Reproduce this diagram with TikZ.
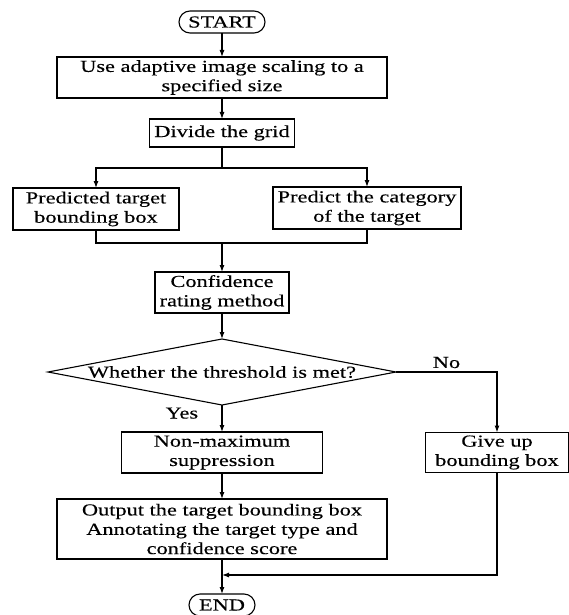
\documentclass[tikz,border=0pt]{standalone}
\usepackage{fontspec}
\setmainfont{Liberation Serif}[FakeStretch=1.33, FakeBold=0.3]
\usepackage{tikz}
\usetikzlibrary{arrows.meta,positioning,calc,shapes.geometric}
\newcommand{\flowfont}{\fontsize{16.8}{19.3}\selectfont}
\tikzset{
  flowBox/.style={draw, line width=1.1pt, outer sep=0pt, align=center, inner sep=2pt, font=\flowfont},
  flowEnd/.style={flowBox, rounded corners=11pt, minimum width=86pt, minimum height=22pt},
  flowCheck/.style={draw, line width=1.1pt, outer sep=0pt, diamond, inner sep=0pt, minimum width=348pt, minimum height=66pt},
  flowArrow/.style={-{Latex[length=7pt,width=5pt]}, line width=1.1pt},
  flowLine/.style={line width=1.1pt},
  flowLabel/.style={font=\flowfont}
}

\begin{document}
\begin{tikzpicture}[x=1pt, y=-1pt]
  \useasboundingbox (0,0) rectangle (569,615);
  \node[flowEnd] (start) at (222,22) {START};
  \node[flowBox, minimum width=330pt, minimum height=41pt, below=24pt of start] (scale) {Use adaptive image scaling to a\\ specified size};
  \node[flowBox, minimum width=145pt, minimum height=28pt, below=21pt of scale] (grid) {Divide the grid};
  \node[flowBox, minimum width=166pt, minimum height=42pt, below=41pt of grid, xshift=-126pt] (bbox) {Predicted target\\ bounding box};
  \node[flowBox, minimum width=188pt, minimum height=42pt, below=40pt of grid, xshift=145pt] (cls) {Predict the category\\ of the target};
  \node[flowBox, minimum width=134pt, minimum height=41pt, below=125pt of grid] (conf) {Confidence\\ rating method};
  \node[flowCheck, below=26pt of conf, label={[flowLabel]center:Whether the threshold is met?}] (chk) {};
  \node[flowBox, minimum width=201pt, minimum height=41pt, below=27pt of chk] (nms) {Non-maximum\\ suppression};
  \node[flowBox, minimum width=143pt, minimum height=40pt, right=103pt of nms] (giveup) {Give up\\ bounding box};
  \node[flowBox, minimum width=330pt, minimum height=60pt, below=26pt of nms] (out) {Output the target bounding box\\ Annotating the target type and\\ confidence score};
  \node[flowEnd, minimum width=66pt, below=35pt of out] (endnode) {END};
  \coordinate (fork) at ($(grid.south)+(0,-21pt)$);
  \coordinate (merge) at ($(conf.north)+(0,29pt)$);
  \coordinate (rejoin) at ($(out.south)+(0,-16pt)$);
  \draw[flowArrow] (start) -- (scale);
  \draw[flowArrow] (scale) -- (grid);
  \draw[flowLine] (grid) -- (fork);
  \draw[flowArrow] (fork) -| (bbox.north);
  \draw[flowArrow] (fork) -| (cls.north);
  \draw[flowLine] (bbox.south) |- (merge) -| (cls.south);
  \draw[flowArrow] (merge) -- (conf);
  \draw[flowArrow] (conf) -- (chk);
  \draw[flowArrow] (chk.east) -| node[pos=0.25, above, flowLabel] {No} (giveup.north);
  \draw[flowArrow] (chk) -- node[pos=0.3, left=20pt, flowLabel] {Yes} (nms);
  \draw[flowArrow] (nms) -- (out);
  \draw[flowArrow] (out) -- (endnode);
  \draw[flowArrow] (giveup.south) |- (rejoin);
\end{tikzpicture}
\end{document}
